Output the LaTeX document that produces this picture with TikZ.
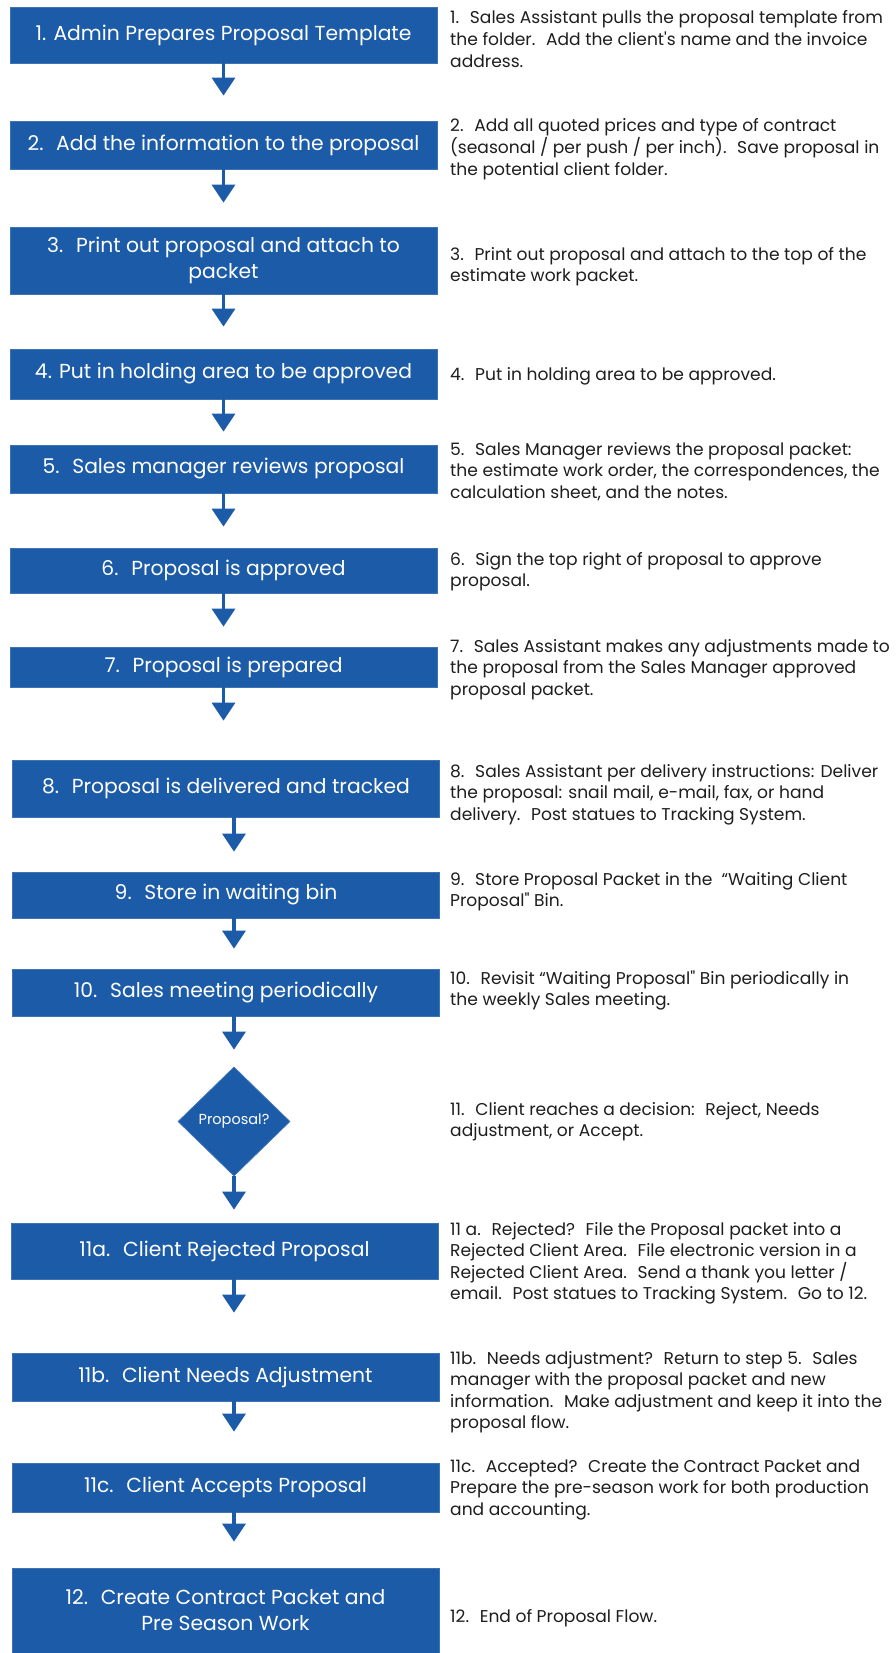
\documentclass[tikz,border=0pt]{standalone}
\usepackage{fontspec}
\setmainfont{Poppins}[Ligatures=TeXOff]
\usetikzlibrary{arrows.meta,shapes.geometric}
\definecolor{boxblue}{RGB}{28,91,168}
\definecolor{txt}{RGB}{30,30,30}
\begin{document}
\begin{tikzpicture}[x=1pt,y=-1pt,
  stepbox/.style={fill=boxblue, draw=boxblue!85!white, line width=0.8pt, text=white,
    font=\fontsize{20.3}{26}\selectfont, align=center, inner sep=0pt, minimum width=427pt},
  note/.style={anchor=base west, align=left, text=txt, font=\fontsize{17.1}{21.6}\selectfont, inner sep=0pt},
  arr/.style={draw=boxblue, line width=3.5pt, -{Triangle[width=23pt,length=18pt]}}]
\useasboundingbox (0,0) rectangle (896,1653);
\fill[white] (0,0) rectangle (896,1653);

% step boxes
\node[stepbox, minimum height=56pt] (b1) at (223.5,35) {1. Admin Prepares Proposal Template};
\node[stepbox, minimum height=48pt] (b2) at (223.5,145) {2.~ Add the information to the proposal};
\node[stepbox, minimum height=67pt] (b3) at (223.5,260.5) {3.~ Print out proposal and attach to\\packet};
\node[stepbox, minimum height=50pt] (b4) at (223.5,374) {4. Put in holding area to be approved};
\node[stepbox, minimum height=48pt] (b5) at (223.5,469) {5.~ Sales manager reviews proposal};
\node[stepbox, minimum height=45pt] (b6) at (223.5,570.5) {6.~ Proposal is approved};
\node[stepbox, minimum height=40pt] (b7) at (223.5,667) {7.~ Proposal is prepared};
\node[stepbox, minimum height=57pt] (b8) at (226,788.5) {8.~ Proposal is delivered and tracked};
\node[stepbox, minimum height=46pt] (b9) at (226,895) {9.~ Store in waiting bin};
\node[stepbox, minimum height=47pt] (b10) at (226,992.5) {10.~ Sales meeting periodically};
\node[diamond, fill=boxblue, draw=boxblue!85!white, line width=0.8pt, text=white,
  font=\fontsize{14.5}{17}\selectfont, inner sep=0pt, aspect=1,
  minimum width=112pt, minimum height=109pt] (d) at (234,1121.5) {Proposal?};
\node[stepbox, minimum height=56pt] (b11a) at (224.5,1251) {11a.~ Client Rejected Proposal};
\node[stepbox, minimum height=48pt] (b11b) at (225.5,1377) {11b.~ Client Needs Adjustment};
\node[stepbox, minimum height=49pt] (b11c) at (225.5,1487.5) {11c.~ Client Accepts Proposal};
\node[stepbox, minimum height=85pt] (b12) at (225.5,1610.5) {12.~ Create Contract Packet and\\Pre Season Work};

% connectors
\draw[arr, shorten >=25pt] (b1.south) -- (b2.north);
\draw[arr, shorten >=24pt] (b2.south) -- (b3.north);
\draw[arr, shorten >=22pt] (b3.south) -- (b4.north);
\draw[arr, shorten >=13pt] (b4.south) -- (b5.north);
\draw[arr, shorten >=21pt] (b5.south) -- (b6.north);
\draw[arr, shorten >=20pt] (b6.south) -- (b7.north);
\draw[arr, shorten >=39pt] (b7.south) -- (b7.south |- b8.north);
\draw[arr, shorten >=20pt] ([xshift=8pt]b8.south) -- ([xshift=8pt]b9.north);
\draw[arr, shorten >=20pt] ([xshift=8pt]b9.south) -- ([xshift=8pt]b10.north);
\draw[arr, shorten >=17pt] ([xshift=8pt]b10.south) -- (d.north);
\draw[arr, shorten >=13pt] (d.south) -- (d.south |- b11a.north);
\draw[arr, shorten >=40pt] ([xshift=9.5pt]b11a.south) -- ([xshift=8.5pt]b11b.north);
\draw[arr, shorten >=31pt] ([xshift=8.5pt]b11b.south) -- ([xshift=8.5pt]b11c.north);
\draw[arr, shorten >=26pt] ([xshift=8.5pt]b11c.south) -- ([xshift=8.5pt]b12.north);

% notes (anchored at the baseline of their last line)
\node[note] (t1) at (450,67.2) {1.~ Sales Assistant pulls the proposal template from\\the folder.~ Add the client's name and the invoice\\address.};
\node[note] (t2) at (450,175.2) {2.~ Add all quoted prices and type of contract\\(seasonal / per push / per inch).~ Save proposal in\\the potential client folder.};
\node[note] (t3) at (450,281.6) {3.~ Print out proposal and attach to the top of the\\estimate work packet.};
\node[note] (t4) at (450,380) {4.~ Put in holding area to be approved.};
\node[note] (t5) at (450,498.2) {5.~ Sales Manager reviews the proposal packet:\\the estimate work order, the correspondences, the\\calculation sheet, and the notes.};
\node[note] (t6) at (450,586.6) {6.~ Sign the top right of proposal to approve\\proposal.};
\node[note] (t7) at (450,695.2) {7.~ Sales Assistant makes any adjustments made to\\the proposal from the Sales Manager approved\\proposal packet.};
\node[note] (t8) at (450,820.2) {8.~ Sales Assistant per delivery instructions: Deliver\\the proposal: snail mail, e-mail, fax, or hand\\delivery.~ Post statues to Tracking System.};
\node[note] (t9) at (450,906.6) {9.~ Store Proposal Packet in the~ “Waiting Client\\Proposal" Bin.};
\node[note] (t10) at (450,1005.6) {10.~ Revisit “Waiting Proposal" Bin periodically in\\the weekly Sales meeting.};
\node[note] (t11) at (450,1136.6) {11.~ Client reaches a decision:~ Reject, Needs\\adjustment, or Accept.};
\node[note] (t11a) at (450,1299.8) {11 a.~ Rejected?~ File the Proposal packet into a\\Rejected Client Area.~ File electronic version in a\\Rejected Client Area.~ Send a thank you letter /\\email.~ Post statues to Tracking System.~ Go to 12.};
\node[note] (t11b) at (450,1428.8) {11b.~ Needs adjustment?~ Return to step 5.~ Sales\\manager with the proposal packet and new\\information.~ Make adjustment and keep it into the\\proposal flow.};
\node[note] (t11c) at (450,1515.2) {11c.~ Accepted?~ Create the Contract Packet and\\Prepare the pre-season work for both production\\and accounting.};
\node[note] (t12) at (450,1622) {12.~ End of Proposal Flow.};
\end{tikzpicture}
\end{document}
